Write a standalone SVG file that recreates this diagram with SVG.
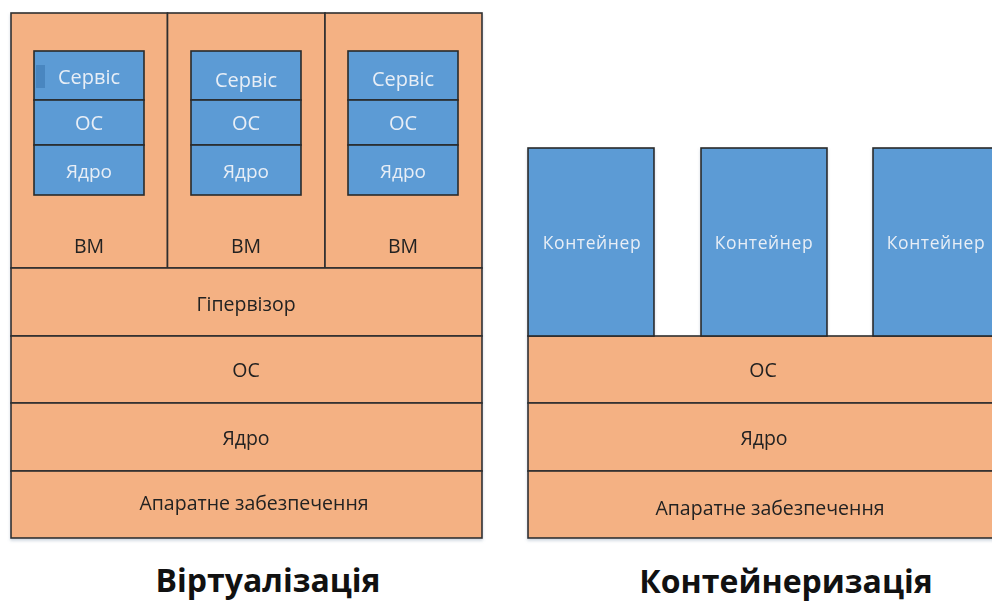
<svg xmlns="http://www.w3.org/2000/svg" width="992" height="602" viewBox="0 0 992 602">
  <style>
    .layer { fill: #F4B183; stroke: #2F2F2F; stroke-width: 1.6; }
    .blue { fill: #5B9BD5; stroke: #2A2A2A; stroke-width: 1.6; }
    .dark { font-family: "Open Sans", "Noto Sans", sans-serif; font-size: 19.5px; fill: #222; text-anchor: middle; }
    .light { font-family: "Open Sans", "Noto Sans", sans-serif; font-size: 19px; fill: #E8EEF6; text-anchor: middle; }
    .title { font-family: "Open Sans", "Noto Sans", sans-serif; font-weight: bold; fill: #111; text-anchor: middle; }
  </style>
  <defs>
    <filter id="shadow" x="-5%" y="-5%" width="110%" height="110%">
      <feDropShadow dx="0" dy="2" stdDeviation="1.5" flood-color="#7A8FA8" flood-opacity="0.35"/>
    </filter>
  </defs>
  <rect width="992" height="602" fill="#FFFFFF"/>

  <!-- Virtualization stack -->
  <g id="virtualization" filter="url(#shadow)">
    <g id="vm1">
      <rect class="layer" x="11" y="13" width="156.5" height="255"/>
      <rect class="blue" x="34" y="51" width="110" height="49"/>
      <rect x="36" y="65" width="9" height="23" fill="#4A86C0"/>
      <rect class="blue" x="34" y="100" width="110" height="45"/>
      <rect class="blue" x="34" y="145" width="110" height="50"/>
      <text class="light" x="89" y="84" style="font-size:20px">Сервіс</text>
      <text class="light" x="89" y="130" style="font-size:20px">ОС</text>
      <text class="light" x="89" y="178">Ядро</text>
      <text class="dark" x="89" y="253">ВМ</text>
    </g>
    <g id="vm2">
      <rect class="layer" x="167.5" y="13" width="157.5" height="255"/>
      <rect class="blue" x="191" y="51" width="110" height="49"/>
      <rect class="blue" x="191" y="100" width="110" height="45"/>
      <rect class="blue" x="191" y="145" width="110" height="50"/>
      <text class="light" x="246" y="87" style="font-size:20px">Сервіс</text>
      <text class="light" x="246" y="130" style="font-size:20px">ОС</text>
      <text class="light" x="246" y="178">Ядро</text>
      <text class="dark" x="246" y="253">ВМ</text>
    </g>
    <g id="vm3">
      <rect class="layer" x="325" y="13" width="157" height="255"/>
      <rect class="blue" x="348" y="51" width="110" height="49"/>
      <rect class="blue" x="348" y="100" width="110" height="45"/>
      <rect class="blue" x="348" y="145" width="110" height="50"/>
      <text class="light" x="403" y="86" style="font-size:20px">Сервіс</text>
      <text class="light" x="403" y="130" style="font-size:20px">ОС</text>
      <text class="light" x="403" y="178">Ядро</text>
      <text class="dark" x="403" y="253">ВМ</text>
    </g>
    <g id="hypervisor">
      <rect class="layer" x="11" y="268" width="471" height="68"/>
      <text class="dark" x="246" y="311">Гіпервізор</text>
    </g>
    <g id="v-os">
      <rect class="layer" x="11" y="336" width="471" height="67"/>
      <text class="dark" x="246" y="377">ОС</text>
    </g>
    <g id="v-kernel">
      <rect class="layer" x="11" y="403" width="471" height="68"/>
      <text class="dark" x="246" y="445">Ядро</text>
    </g>
    <g id="v-hardware">
      <rect class="layer" x="11" y="471" width="471" height="67"/>
      <text class="dark" x="254" y="510">Апаратне забезпечення</text>
    </g>
  </g>

  <!-- Containerization stack -->
  <g id="containerization" filter="url(#shadow)">
    <g id="c-os">
      <rect class="layer" x="528" y="336" width="470" height="67"/>
      <text class="dark" x="763" y="377">ОС</text>
    </g>
    <g id="c-kernel">
      <rect class="layer" x="528" y="403" width="470" height="68"/>
      <text class="dark" x="764" y="445">Ядро</text>
    </g>
    <g id="c-hardware">
      <rect class="layer" x="528" y="471" width="470" height="67"/>
      <text class="dark" x="770" y="515">Апаратне забезпечення</text>
    </g>
    <g id="container1">
      <rect class="blue" x="528" y="148" width="126" height="188"/>
      <text class="light" x="592" y="249" letter-spacing="0.6" style="font-size:17.5px">Контейнер</text>
    </g>
    <g id="container2">
      <rect class="blue" x="701" y="148" width="126" height="188"/>
      <text class="light" x="764" y="249" letter-spacing="0.6" style="font-size:17.5px">Контейнер</text>
    </g>
    <g id="container3">
      <rect class="blue" x="873" y="148" width="126" height="188"/>
      <text class="light" x="936" y="249" letter-spacing="0.6" style="font-size:17.5px">Контейнер</text>
    </g>
  </g>

  <!-- Captions -->
  <g id="captions">
    <text class="title" x="268" y="592" font-size="32">Віртуалізація</text>
    <text class="title" x="786" y="593" font-size="32">Контейнеризація</text>
  </g>
</svg>
